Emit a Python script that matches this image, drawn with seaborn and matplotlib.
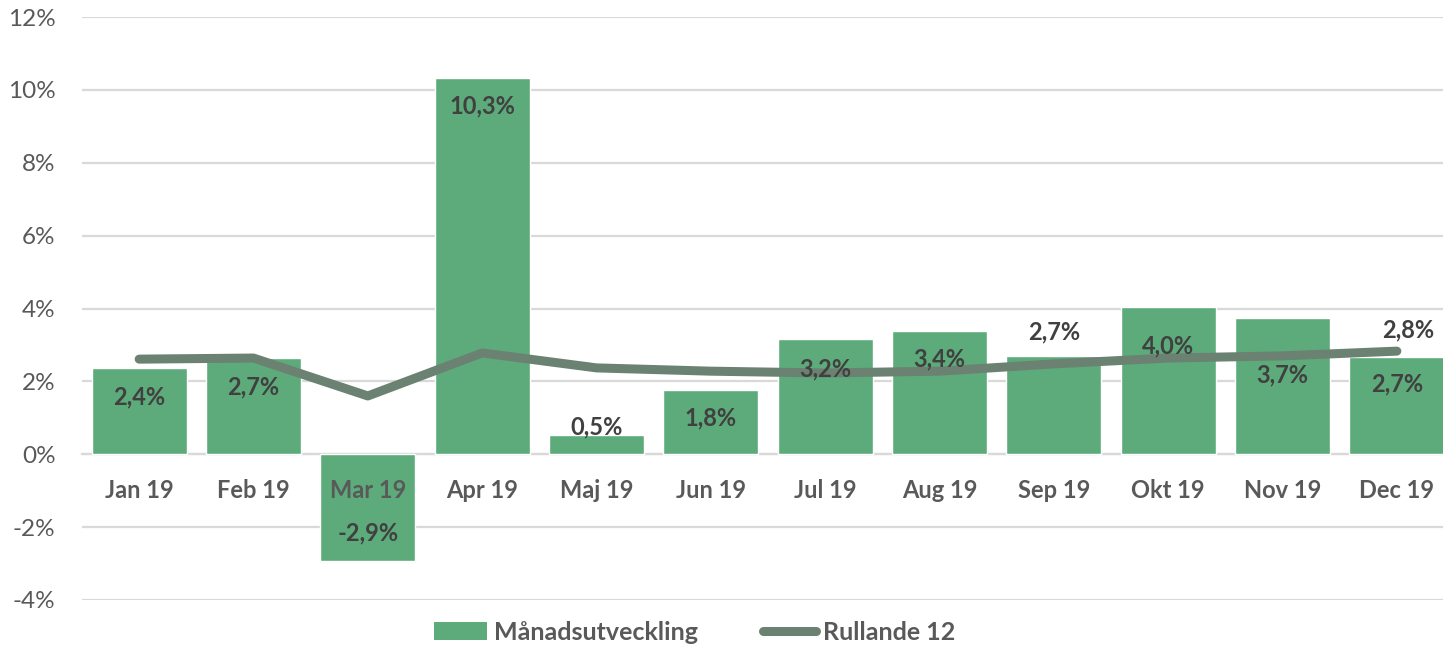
import numpy as np
import pandas as pd
import matplotlib
matplotlib.use("Agg")
import matplotlib.pyplot as plt
import seaborn as sns
from matplotlib.patches import Patch
from matplotlib.lines import Line2D

categories = ["Jan 19", "Feb 19", "Mar 19", "Apr 19", "Maj 19", "Jun 19",
              "Jul 19", "Aug 19", "Sep 19", "Okt 19", "Nov 19", "Dec 19"]
monthly = [2.37, 2.64, -2.93, 10.33, 0.52, 1.75, 3.15, 3.39, 2.70, 4.04, 3.74, 2.68]
monthly_labels = ["2,4%", "2,7%", "-2,9%", "10,3%", "0,5%", "1,8%",
                  "3,2%", "3,4%", "2,7%", "4,0%", "3,7%", "2,7%"]
rolling = [2.61, 2.64, 1.60, 2.78, 2.37, 2.28, 2.23, 2.28, 2.48, 2.64, 2.70, 2.83]
rolling_label = "2,8%"
yticks = [-4, -2, 0, 2, 4, 6, 8, 10, 12]

# label offsets in points relative to bar end
label_offsets = [-21, -21, 20, -20, 6, -20, -21, -20, 17, -28, -41, -20]

sns.set_theme(style="white")
plt.rcParams['font.family'] = ['Lato', 'DejaVu Sans']

bar_color = "#5DAB7B"
line_color = "#6B8272"
text_dark = "#404040"
text_gray = "#595959"

fig = plt.figure(figsize=(14.43, 6.45), dpi=100)
ax = fig.add_axes([82/1443, 45/645, 1372/1443, 583/645])

df = pd.DataFrame({"cat": categories, "val": monthly})
sns.barplot(data=df, x="cat", y="val", color=bar_color, saturation=1,
            width=0.83, ax=ax, zorder=2)
pos = np.arange(len(categories))
sns.lineplot(x=pos, y=rolling, color=line_color, linewidth=6.5, ax=ax,
             zorder=3, solid_capstyle="round", solid_joinstyle="round")

ax.set_ylim(-4, 12)
ax.set_xlim(-0.5, len(categories) - 0.5)
ax.set_yticks(yticks)
ax.set_yticklabels([f"{t}%" for t in yticks], fontsize=17.5, color=text_gray)
ax.yaxis.grid(True, color="#D9D9D9", linewidth=1.6)
ax.set_axisbelow(True)
ax.xaxis.set_zorder(6)
for s in ["top", "right", "left"]:
    ax.spines[s].set_visible(False)
ax.spines["bottom"].set_position(("data", 0))
ax.spines["bottom"].set_color("#D9D9D9")
ax.spines["bottom"].set_linewidth(1.6)
ax.spines["bottom"].set_zorder(1)
ax.tick_params(axis="x", length=0, pad=18)
ax.tick_params(axis="y", length=0, pad=19)
for lab in ax.get_xticklabels():
    lab.set_fontsize(17)
    lab.set_fontweight("bold")
    lab.set_color(text_gray)
ax.set_xlabel("")
ax.set_ylabel("")

for i, (v, t, off) in enumerate(zip(monthly, monthly_labels, label_offsets)):
    ax.annotate(t, (i, v), xytext=(0, off), textcoords="offset points",
                ha="center", va="center", fontsize=17, fontweight="bold",
                color=text_dark, zorder=5)
ax.annotate(rolling_label, (len(rolling) - 1, rolling[-1]), xytext=(8, 15),
            textcoords="offset points", ha="center", va="center",
            fontsize=17, fontweight="bold", color=text_dark, zorder=5)

handles = [Patch(facecolor=bar_color, edgecolor="none"),
           Line2D([0], [0], color=line_color, linewidth=6.5, solid_capstyle="round")]
fig.legend(handles, ["Månadsutveckling", "Rullande 12"], loc="center",
           bbox_to_anchor=(695/1443, 1 - 632/645), ncol=2, frameon=False,
           prop={"size": 18, "weight": "bold"}, labelcolor=text_gray,
           handlelength=2.1, handletextpad=0.3, columnspacing=2.6,
           handleheight=0.7)

fig.savefig("out.png", dpi=100)
